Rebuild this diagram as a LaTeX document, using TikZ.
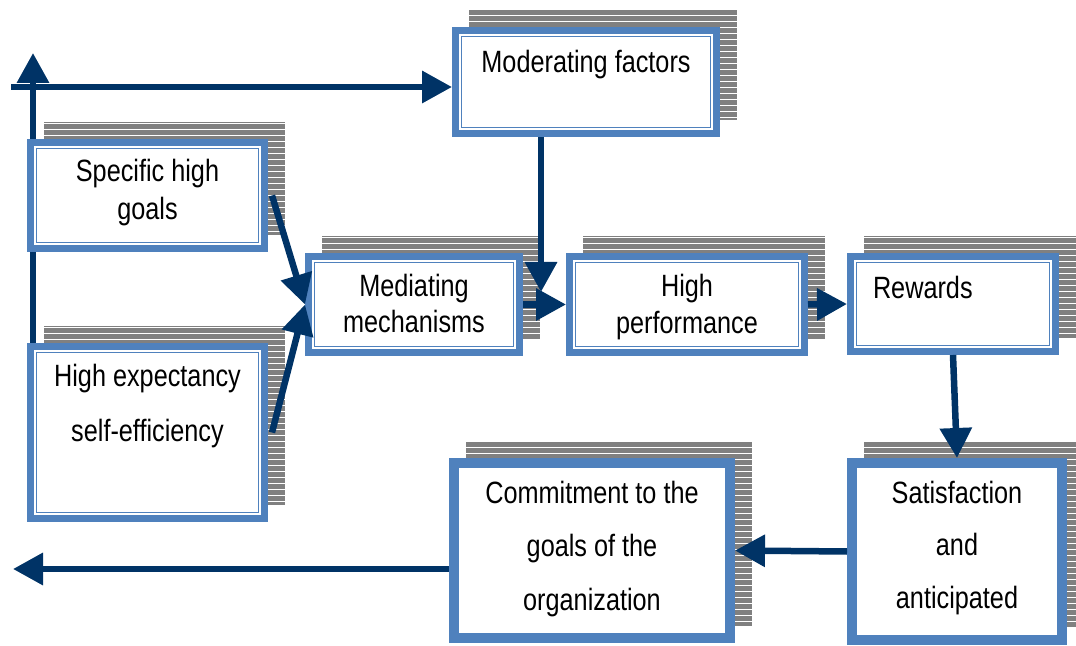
\documentclass[tikz,border=0pt]{standalone}
\usepackage{fontspec}
\setmainfont{Liberation Sans}[FakeStretch=0.82]
\usetikzlibrary{arrows.meta,backgrounds,patterns}
\definecolor{boxblue}{RGB}{79,129,189}
\definecolor{flownavy}{RGB}{0,51,102}
\definecolor{shadowgray}{RGB}{128,128,128}

\begin{document}
\begin{tikzpicture}[x=0.5pt,y=-0.5pt,
    goalbox/.style={draw=boxblue,line width=5pt,fill=white,align=center,inner sep=0pt,
        text height=11pt,text depth=0pt,font=\fontsize{15.4pt}{19pt}\selectfont},
    linegap/.style={font=\fontsize{15.4pt}{#1}\selectfont},
    flow/.style={draw=flownavy,line width=3.25pt,-{Triangle[length=15pt,width=15.5pt]}},
    backbox/.style={fill=shadowgray,postaction={pattern=horizontal lines,pattern color=white}},
    gapline/.style={draw=white,line width=0.75pt}]
  \useasboundingbox (0,0) rectangle (1076,646);
  \node[goalbox,minimum width=129pt,minimum height=50pt,text depth=20.3pt] (mod) at (586,82) {Moderating factors};
  \node[goalbox,minimum width=115.5pt,minimum height=51.5pt,text height=24.5pt] (spec) at (147.5,195.5) {Specific high\\goals};
  \node[goalbox,linegap=27.5pt,minimum width=115.5pt,minimum height=84.5pt,text depth=1.5pt] (exp) at (147.5,432.5) {High expectancy\\self-efficiency};
  \node[goalbox,linegap=18pt,minimum width=104pt,minimum height=46.5pt,text height=28.5pt] (med) at (414,304.5) {Mediating\\mechanisms};
  \node[goalbox,linegap=18.5pt,minimum width=116pt,minimum height=46.5pt,text height=29.5pt] (perf) at (687,304.5) {High\\performance};
  \node[goalbox,align=left,text width=80pt,inner xsep=10.5pt,minimum width=101pt,minimum height=46pt,text depth=16pt] (rew) at (953,304) {Rewards};
  \node[goalbox,linegap=26.25pt,minimum width=105pt,minimum height=88.5pt,text height=56.5pt] (sat) at (957,551.5) {Satisfaction\\and\\anticipated};
  \node[goalbox,linegap=26.75pt,minimum width=138pt,minimum height=87.5pt,text height=59.5pt] (com) at (592,550.5) {Commitment to the\\goals of the\\organization};
  \foreach \n in {mod,spec,exp,med,perf,rew}
    \draw[gapline] ([shift={(3.9pt,-3.9pt)}]\n.north west) rectangle ([shift={(-3.9pt,3.9pt)}]\n.south east);
  \begin{scope}[on background layer]
    \foreach \n in {mod,spec,exp,med,perf,rew,sat,com}
      \path[backbox] ([shift={(8.5pt,8.5pt)}]\n.south west) rectangle ([shift={(8.5pt,8.5pt)}]\n.north east);
    \coordinate (upend) at (33,53);
    \draw[flow] (upend |- exp.north) -- (upend);
  \end{scope}
  \coordinate (leftend) at (11,87);
  \draw[flow] (leftend) -- (leftend -| mod.west);
  \draw[flow] ([xshift=2pt]spec.east) -- (med.west);
  \draw[flow] ([xshift=2pt]exp.east) -- (med.west);
  \coordinate (modin) at (541,292);
  \draw[flow] (modin |- mod.south) -- (modin);
  \draw[flow] (med.east) -- (perf.west);
  \draw[flow] (perf.east) -- (rew.west);
  \draw[flow] (rew.south) -- (sat.north);
  \draw[flow] (sat.west) -- (com.east);
  \coordinate (outend) at (13,569);
  \draw[flow] (com.west |- outend) -- (outend);
\end{tikzpicture}
\end{document}
